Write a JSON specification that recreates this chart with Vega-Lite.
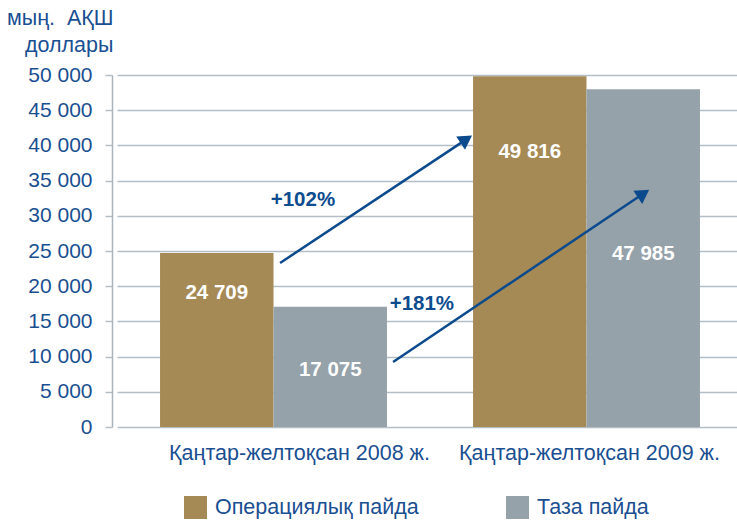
{
  "$schema": "https://vega.github.io/schema/vega-lite/v6.json",
  "width": 625,
  "height": 352,
  "autosize": {"type": "none"},
  "padding": {"left": 112, "top": 75, "right": 0, "bottom": 93},
  "background": "white",
  "config": {
    "view": {"stroke": null},
    "font": "Liberation Sans",
    "axis": {"labelFont": "Liberation Sans", "titleFont": "Liberation Sans"}
  },
  "datasets": {
    "bars": [
      {"period": "Қаңтар-желтоқсан 2008 ж.", "series": "Операциялық пайда", "value": 24709, "label": "24 709", "labelPos": 19034},
      {"period": "Қаңтар-желтоқсан 2008 ж.", "series": "Таза пайда", "value": 17075, "label": "17 075", "labelPos": 8097},
      {"period": "Қаңтар-желтоқсан 2009 ж.", "series": "Операциялық пайда", "value": 49816, "label": "49 816", "labelPos": 39063},
      {"period": "Қаңтар-желтоқсан 2009 ж.", "series": "Таза пайда", "value": 47985, "label": "47 985", "labelPos": 24574}
    ],
    "arrows": [
      {"arrow": "a", "pos": 0.521, "value": 23295, "ord": 0},
      {"arrow": "a", "pos": 1.116, "value": 40852, "ord": 1},
      {"arrow": "b", "pos": 0.882, "value": 9233, "ord": 0},
      {"arrow": "b", "pos": 1.682, "value": 33168, "ord": 1}
    ],
    "heads": [
      {"pos": 1.116, "value": 40852, "angle": 326.4},
      {"pos": 1.682, "value": 33168, "angle": 326}
    ],
    "notes": [
      {"pos": 0.594, "value": 32244, "text": "+102%"},
      {"pos": 0.974, "value": 17472, "text": "+181%"}
    ]
  },
  "resolve": {"scale": {"x": "independent"}, "axis": {"y": "independent", "x": "independent"}},
  "layer": [
    {
      "data": {"name": "bars"},
      "mark": {"type": "bar"},
      "encoding": {
        "x": {
          "field": "period", "type": "nominal", "sort": null,
          "scale": {"range": [5, 631], "paddingInner": 0.275, "paddingOuter": 0.1375},
          "axis": {"title": null, "domain": false, "ticks": false, "labelAngle": 0, "labelFontSize": 21.5, "labelColor": "#1a4f91", "labelPadding": 15, "labelBaseline": "top", "labelLimit": 400,
            "labelOffset": {"expr": "datum.value == 'Қаңтар-желтоқсан 2008 ж.' ? 26 : 3"}}
        },
        "xOffset": {"field": "series", "type": "nominal", "sort": null, "scale": {"paddingInner": 0, "paddingOuter": 0}},
        "y": {
          "field": "value", "type": "quantitative",
          "scale": {"domain": [0, 50000], "nice": false},
          "axis": {
            "title": ["мың.\u00a0\u00a0АҚШ", "доллары"],
            "titleAngle": 0, "titleAlign": "right", "titleBaseline": "alphabetic",
            "titleX": 1, "titleY": -51, "titleFontSize": 21.5, "titleFontWeight": "normal", "titleColor": "#1a4f91", "titleLineHeight": 27,
            "values": [0, 5000, 10000, 15000, 20000, 25000, 30000, 35000, 40000, 45000, 50000],
            "labelExpr": "replace(format(datum.value, ','), ',', ' ')",
            "labelFontSize": 21, "labelColor": "#1a4f91", "labelPadding": 13,
            "tickSize": 7, "tickColor": "#b4bec6", "tickWidth": 1.5,
            "grid": true, "gridColor": "#b4bec6", "gridWidth": 1.5,
            "domain": true, "domainColor": "#a9b4bc", "domainWidth": 1.5
          }
        },
        "color": {
          "field": "series", "type": "nominal", "sort": null,
          "scale": {"domain": ["Операциялық пайда", "Таза пайда"], "range": ["#a68a56", "#95a2aa"]},
          "legend": {
            "title": null, "orient": "none", "direction": "horizontal", "legendX": 72, "legendY": 421,
            "symbolType": "square", "symbolSize": 529, "symbolStrokeWidth": 0, "symbolOpacity": 1,
            "labelFontSize": 21.5, "labelColor": "#1a4f91", "labelOffset": 8, "columnPadding": 87, "labelLimit": 400
          }
        }
      }
    },
    {
      "data": {"name": "bars"},
      "mark": {"type": "text", "color": "white", "fontWeight": "bold", "fontSize": 20.5, "baseline": "middle", "align": "center"},
      "encoding": {
        "x": {"field": "period", "type": "nominal", "sort": null, "scale": {"range": [5, 631], "paddingInner": 0.275, "paddingOuter": 0.1375}, "axis": null},
        "xOffset": {"field": "series", "type": "nominal", "sort": null},
        "y": {"field": "labelPos", "type": "quantitative", "axis": null},
        "text": {"field": "label"}
      }
    },
    {
      "data": {"name": "arrows"},
      "mark": {"type": "line", "color": "#0b4a8c", "strokeWidth": 2.5},
      "encoding": {
        "x": {"field": "pos", "type": "quantitative", "scale": {"domain": [0, 2], "range": [5, 631], "nice": false, "zero": false}, "axis": null},
        "y": {"field": "value", "type": "quantitative", "axis": null},
        "detail": {"field": "arrow"},
        "order": {"field": "ord"}
      }
    },
    {
      "data": {"name": "heads"},
      "mark": {"type": "point", "shape": "triangle-right", "filled": true, "color": "#0b4a8c", "opacity": 1, "size": 250},
      "encoding": {
        "x": {"field": "pos", "type": "quantitative", "scale": {"domain": [0, 2], "range": [5, 631], "nice": false, "zero": false}, "axis": null},
        "y": {"field": "value", "type": "quantitative", "axis": null},
        "angle": {"field": "angle", "type": "quantitative", "scale": null}
      }
    },
    {
      "data": {"name": "notes"},
      "mark": {"type": "text", "color": "#0e4c8e", "fontWeight": "bold", "fontSize": 20.5, "baseline": "middle", "align": "center"},
      "encoding": {
        "x": {"field": "pos", "type": "quantitative", "scale": {"domain": [0, 2], "range": [5, 631], "nice": false, "zero": false}, "axis": null},
        "y": {"field": "value", "type": "quantitative", "axis": null},
        "text": {"field": "text"}
      }
    }
  ]
}
